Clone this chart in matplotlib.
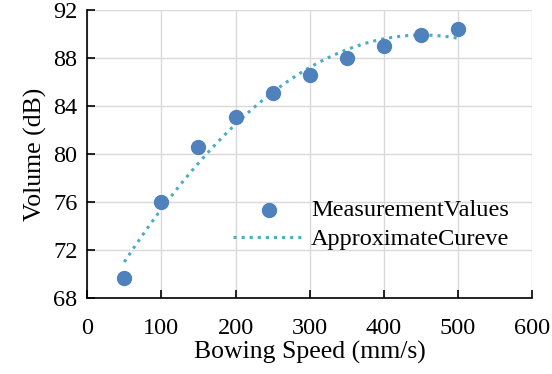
import numpy as np
import matplotlib.pyplot as plt

plt.rcParams['font.family'] = ['Liberation Serif', 'DejaVu Serif']

# measured data
speed = np.array([50, 100, 150, 200, 250, 300, 350, 400, 450, 500])
volume = np.array([69.7, 76.0, 80.6, 83.1, 85.1, 86.6, 88.0, 89.0, 89.9, 90.4])

xticks = [0, 100, 200, 300, 400, 500, 600]
yticks = [68, 72, 76, 80, 84, 88, 92]

fig = plt.figure(figsize=(5.52, 3.74), dpi=100)
ax = fig.add_axes([0.158, 0.203, 0.806, 0.770])

# approximate curve (least squares fit, 2nd degree)
fit = np.polyfit(speed, volume, 2)
p = np.poly1d(fit)
xp = np.linspace(speed.min(), speed.max(), 200)

ax.scatter(speed, volume, s=100, color="#4F81BD", zorder=3, label="MeasurementValues")
ax.plot(xp, p(xp), ':', color="#4BACC6", lw=2.2, zorder=2, label="ApproximateCureve")

ax.set_xlim(0, 600)
ax.set_ylim(68, 92)
ax.set_xticks(xticks)
ax.set_yticks(yticks)
ax.grid(True, color="#D9D9D9", lw=1)
ax.set_axisbelow(True)
for s in ["top", "right"]:
    ax.spines[s].set_visible(False)
for s in ["left", "bottom"]:
    ax.spines[s].set_linewidth(1.2)
ax.tick_params(direction="in", length=6, width=1.2, labelsize=17.5)
ax.tick_params(axis="y", pad=7)
ax.tick_params(axis="x", pad=14)
ax.set_xlabel("Bowing Speed (mm/s)", fontsize=18.5, labelpad=2)
ax.set_ylabel("Volume (dB)", fontsize=18.5, labelpad=4)

ax.legend(loc="lower right", bbox_to_anchor=(0.982, 0.115), frameon=False, fontsize=17.5,
          handlelength=2.9, handletextpad=0.3, borderpad=0.1, labelspacing=0.3)

fig.savefig("out.png", dpi=100)
